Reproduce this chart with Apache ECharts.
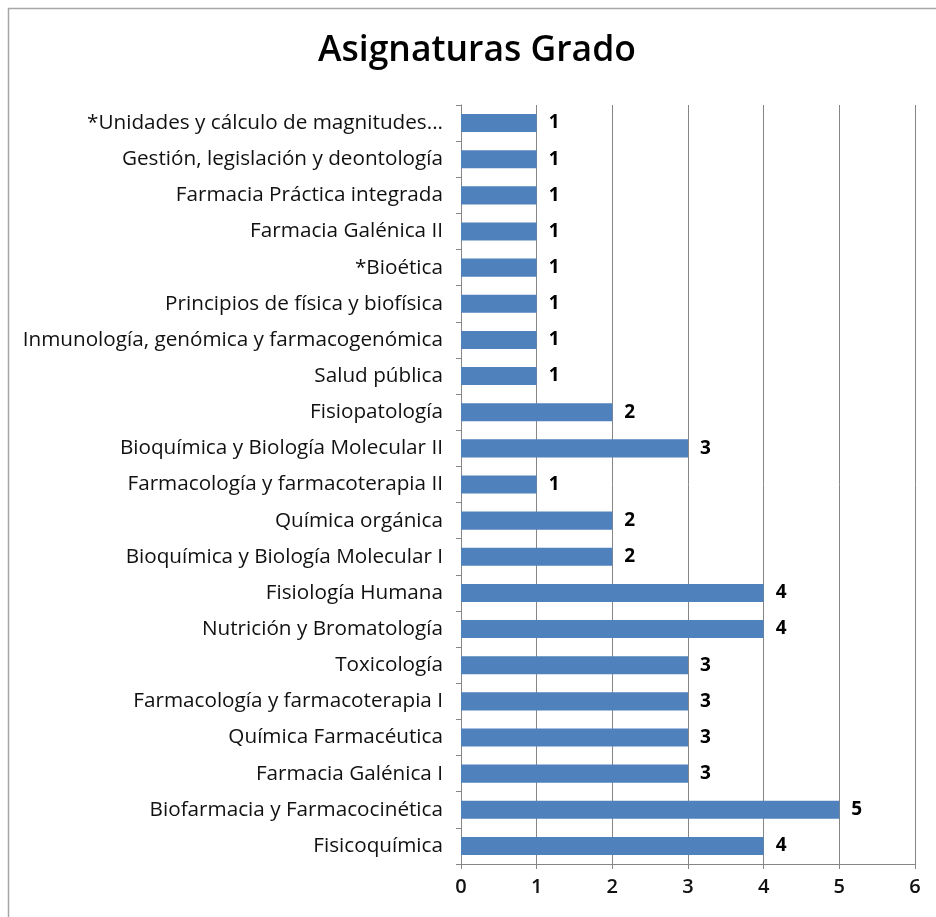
<!DOCTYPE html>
<html>
<head>
<meta charset="UTF-8">
<title>Asignaturas Grado</title>
<script src="https://cdn.jsdelivr.net/npm/echarts@6/dist/echarts.min.js"></script>
<style>
body { margin: 0; padding: 0; background: #fff; }
#main { width: 936px; height: 917px; }
</style>
</head>
<body>
<div id="main"></div>
<script>
// subjects, top to bottom as in the picture
var asignaturas = [
    '*Unidades y cálculo de magnitudes...',
    'Gestión, legislación y deontología',
    'Farmacia Práctica integrada',
    'Farmacia Galénica II',
    '*Bioética',
    'Principios de física y biofísica',
    'Inmunología, genómica y farmacogenómica',
    'Salud pública',
    'Fisiopatología',
    'Bioquímica y Biología Molecular II',
    'Farmacología y farmacoterapia II',
    'Química orgánica',
    'Bioquímica y Biología Molecular I',
    'Fisiología Humana',
    'Nutrición y Bromatología',
    'Toxicología',
    'Farmacología y farmacoterapia I',
    'Química Farmacéutica',
    'Farmacia Galénica I',
    'Biofarmacia y Farmacocinética',
    'Fisicoquímica'
];
var valores = [1, 1, 1, 1, 1, 1, 1, 1, 2, 3, 1, 2, 2, 4, 4, 3, 3, 3, 3, 5, 4];
var ejeMax = 6;

var chart = echarts.init(document.getElementById('main'));
var option = {
    animation: false,
    backgroundColor: '#fff',
    textStyle: { fontFamily: 'Open Sans' },
    title: {
        text: 'Asignaturas Grado',
        left: 318,
        top: 33,
        padding: 0,
        textStyle: { fontSize: 35.5, fontWeight: 600, color: '#000', fontFamily: 'Open Sans' }
    },
    graphic: [{
        type: 'rect',
        shape: { x: 8.5, y: 8.5, width: 1000, height: 1000 },
        style: { fill: 'none', stroke: '#a6a6a6', lineWidth: 1.5 },
        silent: true
    }],
    grid: { left: 461, right: 21, top: 105, bottom: 53 },
    xAxis: {
        type: 'value',
        min: 0,
        max: ejeMax,
        interval: 1,
        axisLine: { show: true, lineStyle: { color: '#868686' } },
        axisTick: { show: true, length: 5, lineStyle: { color: '#868686' } },
        axisLabel: { color: '#111', fontSize: 20, margin: 13, fontWeight: 600 },
        splitLine: { show: true, lineStyle: { color: '#868686' } }
    },
    yAxis: {
        type: 'category',
        inverse: true,
        data: asignaturas,
        axisLine: { show: true, lineStyle: { color: '#868686' } },
        axisTick: { show: true, length: 5, lineStyle: { color: '#868686' } },
        axisLabel: { color: '#111', fontSize: 20.7, margin: 18 }
    },
    series: [{
        type: 'bar',
        data: valores,
        barWidth: '50%',
        itemStyle: { color: '#4f81bd' },
        label: {
            show: true,
            position: 'right',
            distance: 12,
            color: '#000',
            fontSize: 19,
            fontWeight: 'bold'
        }
    }]
};
chart.setOption(option);
</script>
</body>
</html>
